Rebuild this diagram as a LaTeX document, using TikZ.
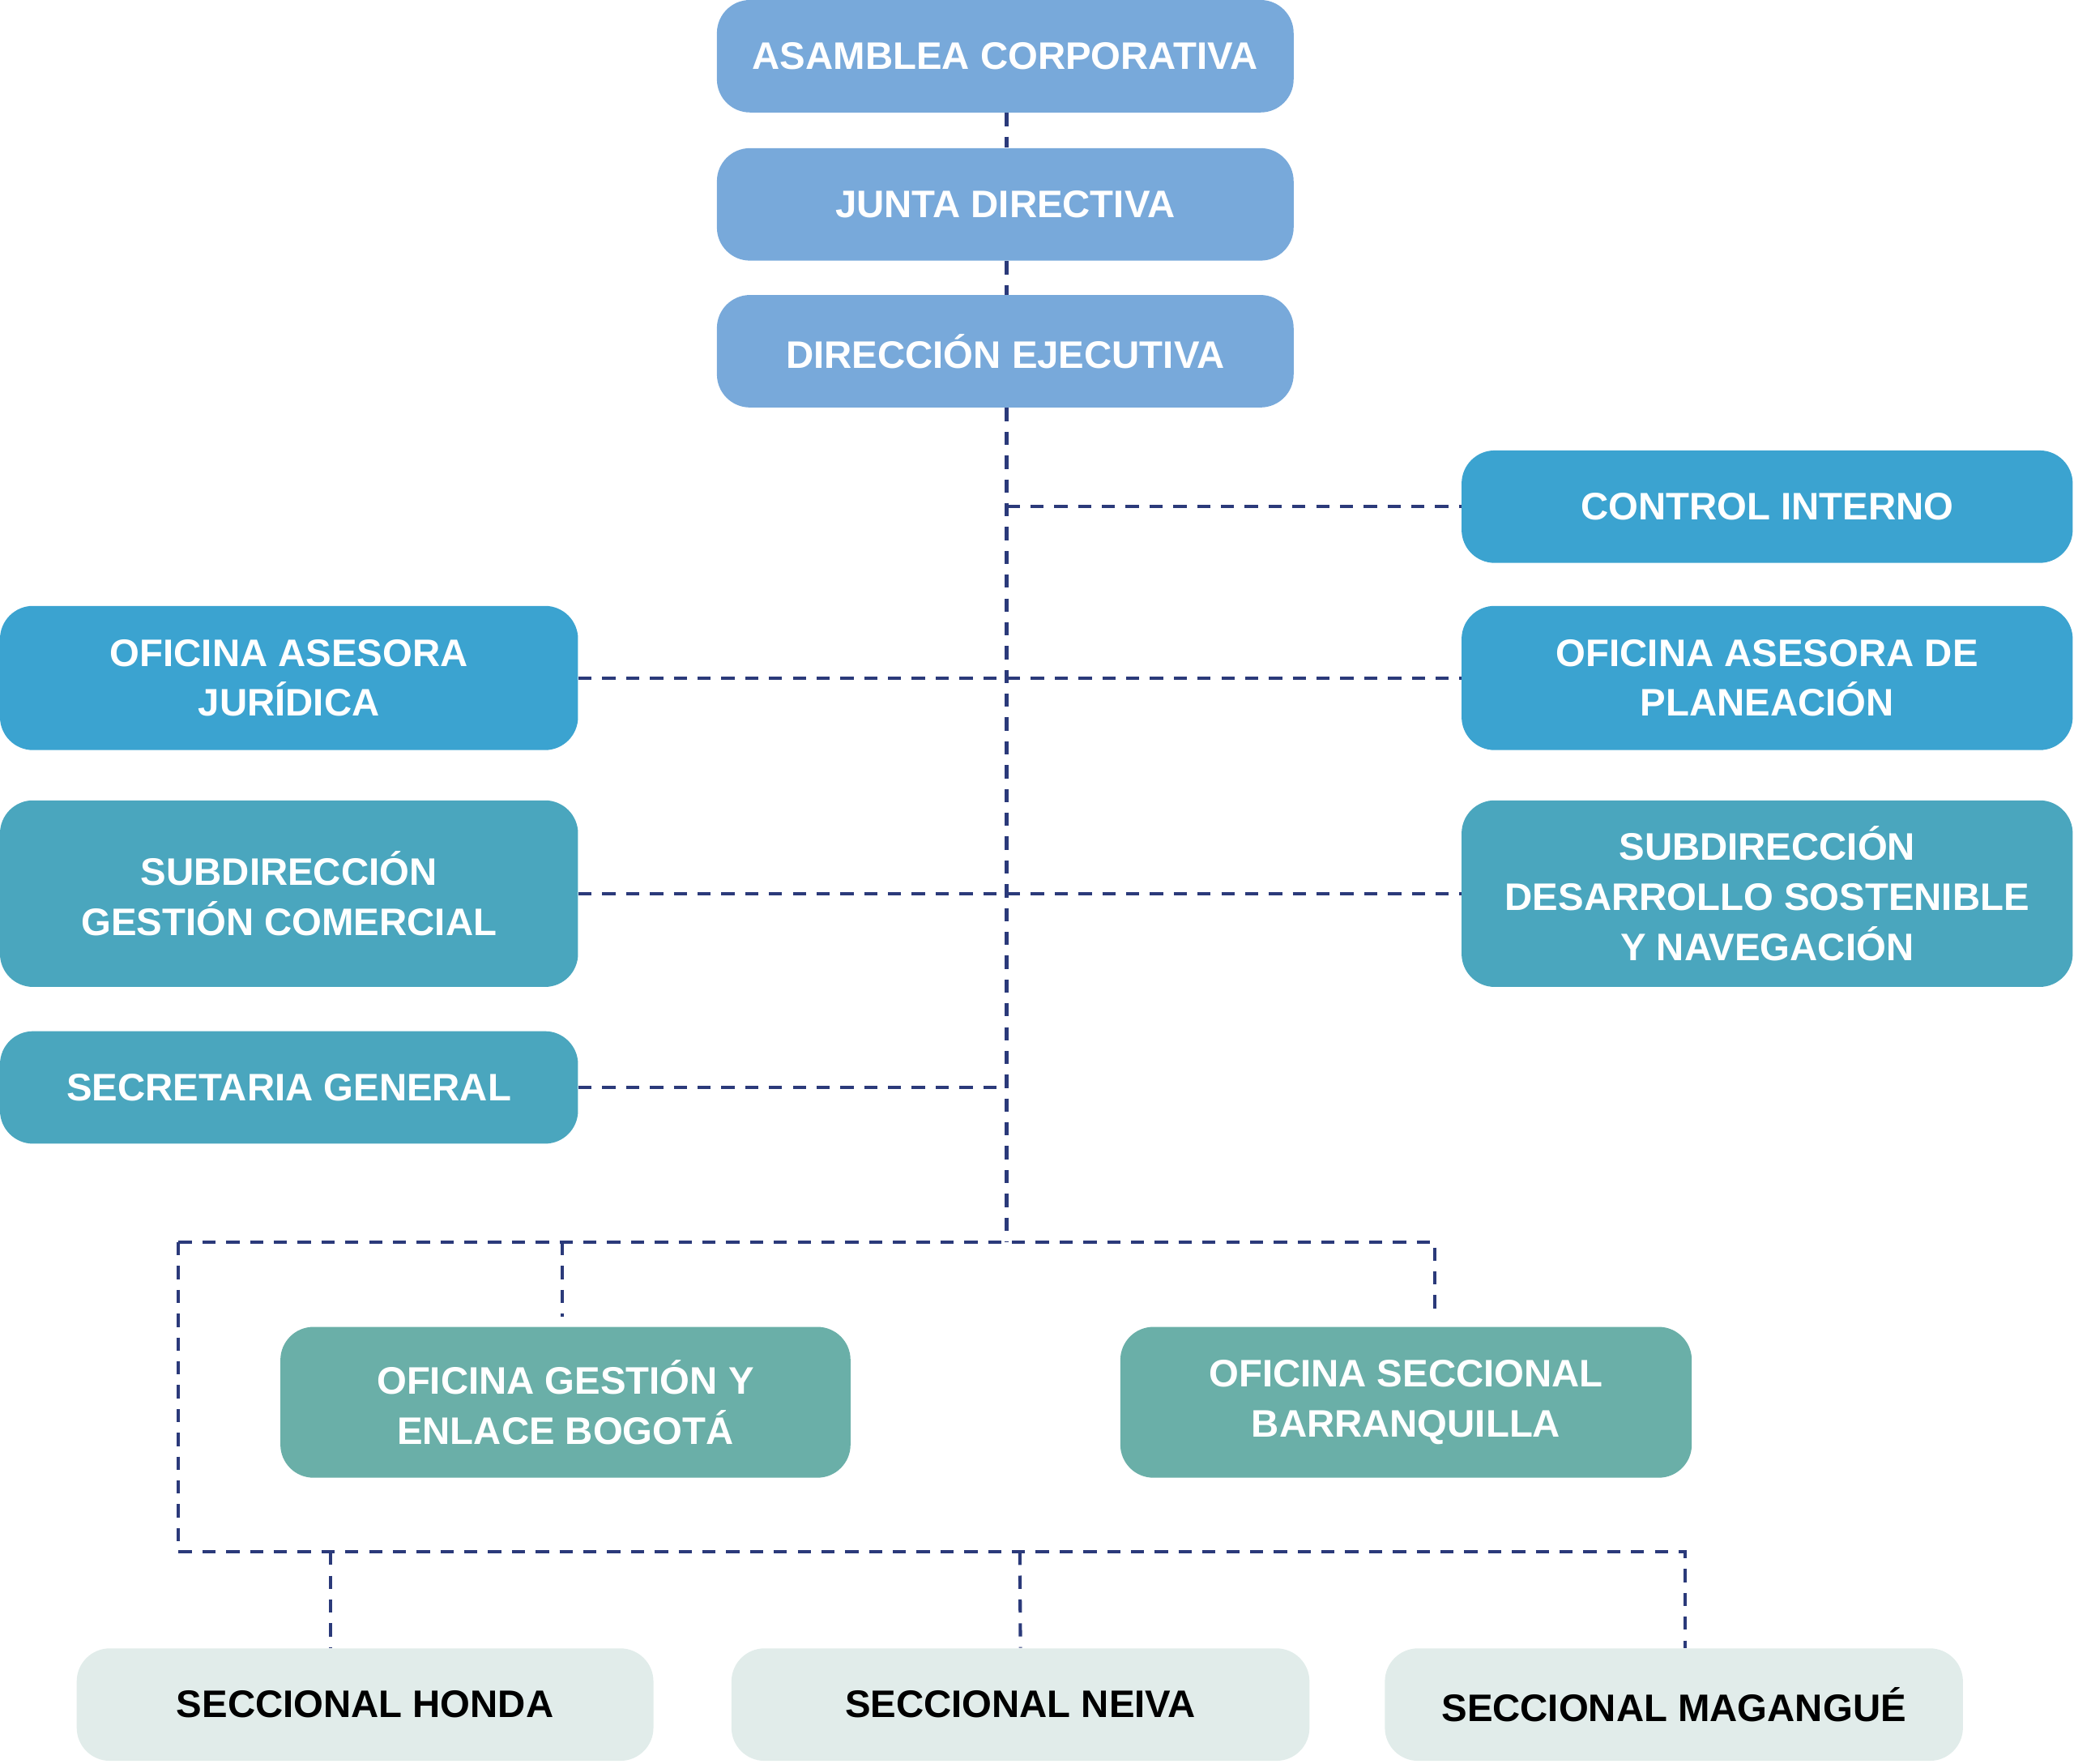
\documentclass[tikz,border=0pt]{standalone}
\usepackage{fontspec}
\setmainfont{Liberation Sans}
\definecolor{topblue}{HTML}{78A9DA}
\definecolor{midblue}{HTML}{3BA3D0}
\definecolor{tealblue}{HTML}{4AA6BE}
\definecolor{greenteal}{HTML}{6AAFA8}
\definecolor{paleteal}{HTML}{E1ECEA}
\definecolor{linenavy}{HTML}{2B3A7A}
\begin{document}
\begin{tikzpicture}[x=0.2mm,y=-0.2mm]
\tikzset{box/.style={rounded corners=5mm,text=white,align=center,inner sep=0pt,
                     font=\fontsize{16.5}{21.5}\selectfont\bfseries},
         link/.style={draw=linenavy,line width=0.5mm,dash pattern=on 2mm off 1.6mm}}
\useasboundingbox (0,0) rectangle (1568,1333);
% top
\node[box,fill=topblue,minimum width=87.2mm,minimum height=17mm] (asam) at (760,42.5) {ASAMBLEA CORPORATIVA};
\node[box,fill=topblue,minimum width=87.2mm,minimum height=17mm] (junta) at (760,154.5) {JUNTA DIRECTIVA};
\node[box,fill=topblue,minimum width=87.2mm,minimum height=17mm] (dir) at (760,265.5) {DIRECCIÓN EJECUTIVA};
% staff
\node[box,fill=midblue,minimum width=92.4mm,minimum height=17mm] (ctrl) at (1336,383) {CONTROL INTERNO};
\node[box,fill=midblue,minimum width=87.4mm,minimum height=21.8mm] (jur) at (218.5,512.5) {OFICINA ASESORA\\JURÍDICA};
\node[box,fill=midblue,minimum width=92.4mm,minimum height=21.8mm] (plan) at (1336,512.5) {OFICINA ASESORA DE\\PLANEACIÓN};
\node[box,fill=tealblue,minimum width=87.4mm,minimum height=28.2mm] (com) at (218.5,675.5) {SUBDIRECCIÓN\\GESTIÓN COMERCIAL};
\node[box,fill=tealblue,minimum width=92.4mm,minimum height=28.2mm] (des) at (1336,675.5) {SUBDIRECCIÓN\\DESARROLLO SOSTENIBLE\\Y NAVEGACIÓN};
\node[box,fill=tealblue,minimum width=87.4mm,minimum height=17mm] (sec) at (218.5,822) {SECRETARIA GENERAL};
% oficinas
\node[box,fill=greenteal,minimum width=86.2mm,minimum height=22.8mm] (bog) at (427.5,1060) {OFICINA GESTIÓN Y\\ENLACE BOGOTÁ};
\node[box,fill=greenteal,minimum width=86.4mm,minimum height=22.8mm] (baq) at (1063,1060) {OFICINA SECCIONAL\\BARRANQUILLA};
% seccionales
\node[box,fill=paleteal,text=black,minimum width=87.2mm,minimum height=17mm] (hon) at (276,1288.5) {SECCIONAL HONDA};
\node[box,fill=paleteal,text=black,minimum width=87.4mm,minimum height=17mm] (nei) at (771.5,1288.5) {SECCIONAL NEIVA};
\node[box,fill=paleteal,text=black,minimum width=87.4mm,minimum height=17mm] (mag) at (1265.5,1288.5) {SECCIONAL MAGANGUÉ};
% connectors
\coordinate (spine) at (761,939);
\coordinate (leftc) at (135,939);
\coordinate (lowc) at (135,1173);
\draw[link] (asam.south -| spine) -- (junta.north -| spine);
\draw[link] (junta.south -| spine) -- (dir.north -| spine);
\draw[link] (dir.south -| spine) -- (spine);
\draw[link] (spine |- ctrl.west) -- (ctrl.west);
\draw[link] (jur.east) -- (plan.west);
\draw[link] (com.east) -- (des.west);
\draw[link] (sec.east) -- (sec.east -| spine);
\draw[link] (leftc) -- (1085,939) -- (1085,995);
\draw[link] (425,939) -- (425,995);
\draw[link] (leftc) -- (lowc) -- (1274,1173) -- (mag.north -| 1274,0);
\draw[link] (250,1173) -- (hon.north -| 250,0);
\draw[link] (771,1173) -- (nei.north);
\end{tikzpicture}
\end{document}
